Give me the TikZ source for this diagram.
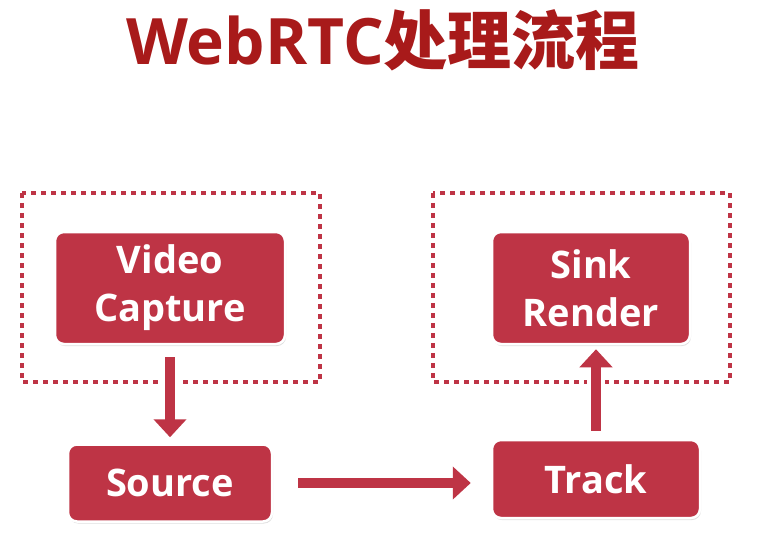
\documentclass[tikz,border=0pt]{standalone}
\usepackage{fontspec}
\setmainfont{Open Sans}
\newfontfamily\cjk{Noto Sans CJK SC}
\usetikzlibrary{arrows.meta, shadows}
\definecolor{boxred}{HTML}{BE3445}
\definecolor{titlered}{HTML}{A81A1A}
\begin{document}
\begin{tikzpicture}[x=1pt, y=-1pt, >=Triangle,
  box/.style={draw=white, line width=2.5pt, fill=boxred, rounded corners=9pt, text=white, align=center, inner sep=0pt, font=\bfseries\fontsize{38}{48}\selectfont, drop shadow={shadow xshift=1pt, shadow yshift=-2pt, opacity=0.25}},
  group/.style={draw=boxred, line width=4pt, dash pattern=on 5pt off 5pt},
  outline/.style={draw=white, line width=18pt, -{Triangle[length=26pt, width=44pt]}},
  flow/.style={draw=boxred, line width=10pt, -{Triangle[length=18pt, width=32pt]}}]
\useasboundingbox (0,0) rectangle (775,545);
\node[text=titlered, font=\bfseries\fontsize{64}{68}\selectfont] (title) at (383,40) {WebRTC{\cjk 处理流程}};
\draw[group] (22,193) rectangle (320,382);
\draw[group] (433,193) rectangle (730,382);
\node[box, minimum width=230pt, minimum height=112pt] (capture) at (170,288) {Video\\Capture};
\node[box, minimum width=198pt, minimum height=112pt] (sink) at (591,288) {Sink\\Render};
\node[box, minimum width=204pt, minimum height=77pt] (source) at (170,483) {Source};
\node[box, minimum width=208pt, minimum height=78pt] (track) at (596,479) {Track};
\foreach \s in {outline, flow} {
  \draw[\s, shorten <=12pt, shorten >=6pt] (capture.south) -- (source.north);
  \draw[\s, shorten <=8pt, shorten >=4pt] (track.north) -- (track.north |- sink.south);
  \draw[\s, shorten <=25pt, shorten >=20pt] (source.east) -- (source.east -| track.west);
}
\end{tikzpicture}
\end{document}
